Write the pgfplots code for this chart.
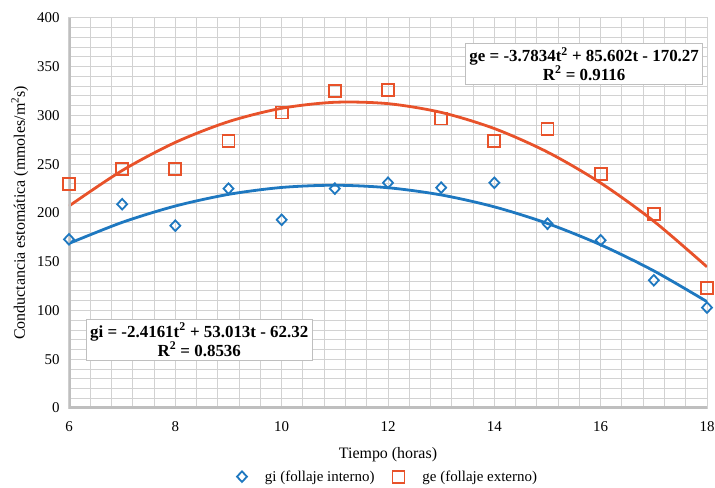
\documentclass[border=0pt]{standalone}
\usepackage{fontspec}
\setmainfont{Liberation Serif}
\usepackage{pgfplots}
\pgfplotsset{compat=1.18}
\definecolor{cblue}{RGB}{30,120,192}
\definecolor{corange}{RGB}{232,82,42}
\definecolor{gridc}{RGB}{210,210,210}
\definecolor{axc}{RGB}{191,191,191}
\begin{document}
\begin{tikzpicture}
\useasboundingbox (-69bp,-80bp) rectangle (646bp,408bp);
\begin{axis}[
  at={(0,0)}, anchor=south west,
  scale only axis, width=638bp, height=390bp,
  xmin=6, xmax=18, ymin=0, ymax=400,
  xtick={6,8,...,18}, ytick={0,50,...,400},
  minor x tick num=4, minor y tick num=4,
  grid=both,
  major grid style={gridc, line width=1bp},
  minor grid style={gridc, line width=1bp},
  major tick length=0pt, minor tick length=0pt,
  axis line style={gridc, line width=1bp},
  /pgf/number format/assume math mode=true,
  tick label style={font=\fontsize{15}{18}\selectfont},
  xticklabel style={yshift=-10bp},
  yticklabel style={xshift=-6bp},
  xlabel={Tiempo (horas)},
  ylabel={Conductancia estomática (mmoles/m\textsuperscript{2}s)},
  label style={font=\fontsize{16}{19}\selectfont},
  xlabel style={yshift=-9bp},
  ylabel style={yshift=2bp},
  legend columns=2,
  legend style={at={(0.5,-0.176)}, anchor=center, draw=none, fill=none,
    font=\fontsize{15}{18}\selectfont, column sep=16bp},
  legend cell align=left,
  legend image code/.code={\draw[#1] plot coordinates {(0bp,0bp)};},
]
\addplot[only marks, mark=diamond, mark size=5.3bp, cblue, line width=1.8bp, mark options={fill=white, xscale=1.25}]
coordinates {(6,173) (7,209) (8,187) (9,225) (10,193) (11,225) (12,231) (13,226) (14,231) (15,189) (16,172) (17,131) (18,103)};
\addlegendentry{gi (follaje interno)}
\addplot[only marks, mark=square, mark size=6bp, corange, line width=1.8bp, mark options={fill=white}]
coordinates {(6,230) (7,245) (8,245) (9,274) (10,303) (11,325) (12,326) (13,297) (14,274) (15,286) (16,240) (17,199) (18,123)};
\addlegendentry{ge (follaje externo)}
\addplot[forget plot, smooth, no marks, cblue, line width=2.8bp]
coordinates {(6,168.78) (7,190.38) (8,207.15) (9,219.10) (10,226.20) (11,228.47) (12,225.92) (13,218.53) (14,206.30) (15,189.26) (16,167.37) (17,140.65) (18,109.09)};
\addplot[forget plot, smooth, no marks, corange, line width=2.8bp]
coordinates {(6,207.14) (7,243.55) (8,272.41) (9,293.69) (10,307.41) (11,313.56) (12,312.14) (13,303.17) (14,286.61) (15,262.49) (16,230.81) (17,191.56) (18,144.75)};
\draw[axc, line width=5bp] (rel axis cs:0,1) -- (rel axis cs:0,0) -- (rel axis cs:1,0);
\node[draw=axc, fill=white, line width=1bp, align=center, inner sep=4bp, font=\bfseries\fontsize{17}{19}\selectfont]
  at (axis cs:15.69,353) {ge = -3.7834t\textsuperscript{2} + 85.602t - 170.27\\R\textsuperscript{2} = 0.9116};
\node[draw=axc, fill=white, line width=1bp, align=center, inner sep=4bp, font=\bfseries\fontsize{17}{19}\selectfont]
  at (axis cs:8.45,70) {gi = -2.4161t\textsuperscript{2} + 53.013t - 62.32\\R\textsuperscript{2} = 0.8536};
\end{axis}
\end{tikzpicture}
\end{document}
